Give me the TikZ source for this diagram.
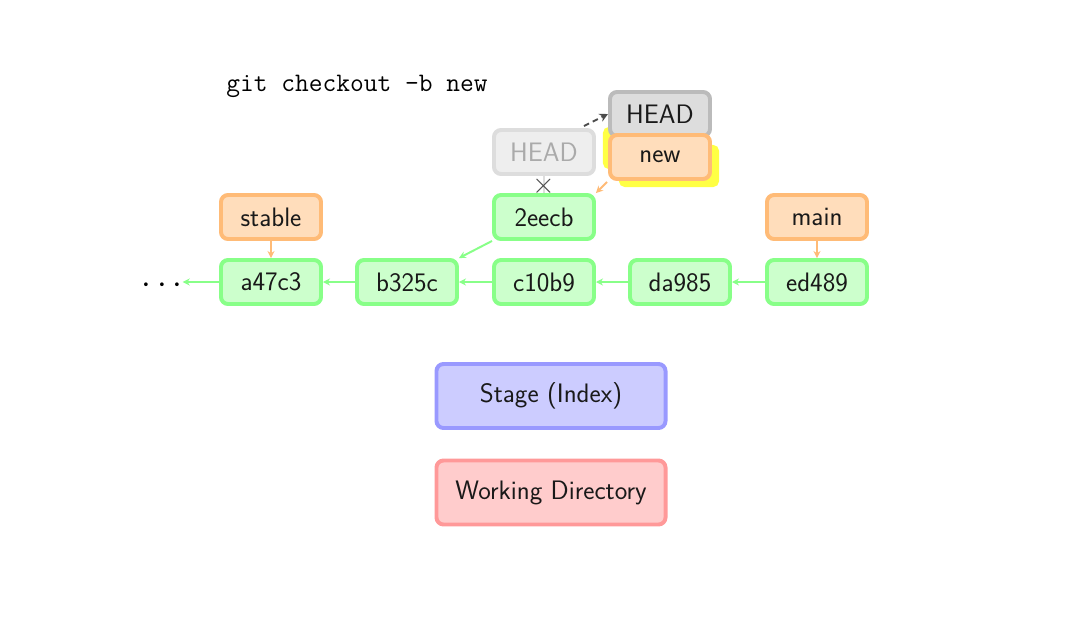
\documentclass[tikz,border=0pt]{standalone}
\usetikzlibrary{arrows.meta}
\definecolor{gfill}{HTML}{CCFFCC}
\definecolor{gdraw}{HTML}{88FF88}
\definecolor{ofill}{HTML}{FFDDBB}
\definecolor{odraw}{HTML}{FFBB77}
\definecolor{bfill}{HTML}{CCCCFF}
\definecolor{bdraw}{HTML}{9999FF}
\definecolor{rfill}{HTML}{FFCCCC}
\definecolor{rdraw}{HTML}{FF9999}
\definecolor{hfill}{HTML}{DDDDDD}
\definecolor{hdraw}{HTML}{BBBBBB}
\definecolor{ffill}{HTML}{EEEEEE}
\definecolor{fdraw}{HTML}{DDDDDD}
\definecolor{ftext}{HTML}{AAAAAA}
\definecolor{yel}{HTML}{FFFF44}
\begin{document}
\begin{tikzpicture}[x=0.025cm,y=-0.025cm,
  base/.style={rectangle,rounded corners=5pt,line width=2.8pt,minimum width=2.5cm,minimum height=1.1cm,inner sep=0pt,font=\sffamily\fontsize{19}{23}\selectfont,text=black!90},
  commit/.style={base,draw=gdraw,fill=gfill},
  branch/.style={base,draw=odraw,fill=ofill},
  headbox/.style={base,draw=hdraw,fill=hfill},
  fadedbox/.style={base,draw=fdraw,fill=ffill,text=ftext},
  area/.style={base,minimum width=5.725cm,minimum height=1.6cm},
  garrow/.style={draw=gdraw,line width=1.4pt,-{Stealth[length=5pt,width=5pt]}},
  oarrow/.style={draw=odraw,line width=1.4pt,-{Stealth[length=5pt,width=5pt]}},
  yelbox/.style={rectangle,rounded corners=4pt,fill=yel,minimum width=2.5cm,minimum height=1.05cm,inner sep=0pt}
]
\useasboundingbox (0,0) rectangle (1092,626);

\node[font=\ttfamily\fontsize{19}{23}\selectfont,anchor=west,inner sep=0pt] (cmd) at (226,86) {git checkout -b new};

% yellow highlight
\node[yelbox] (y1) at (653,148) {};
\node[yelbox] (y2) at (669,166) {};

\node[commit] (a47c3) at (271,282) {a47c3};
\node[commit] (b325c) at (407,282) {b325c};
\node[commit] (c10b9) at (544,282) {c10b9};
\node[commit] (da985) at (680,282) {da985};
\node[commit] (ed489) at (817,282) {ed489};
\node[commit] (2eecb) at (544,217) {2eecb};
\node[branch] (stable) at (271,217) {stable};
\node[branch] (main) at (817,217) {main};
\node[fadedbox] (oldhead) at (544,152) {HEAD};
\node[headbox] (head) at (660,114) {HEAD};
\node[branch] (new) at (660,157) {new};

\node[font=\fontsize{24}{24}\selectfont,inner sep=0pt] (dots) at (162,286) {$\cdots$};

\draw[garrow] (a47c3.west) -- (a47c3.west -| dots.east) coordinate (dotsend);
\draw[garrow] (b325c.west) -- (a47c3.east);
\draw[garrow] (c10b9.west) -- (b325c.east);
\draw[garrow] (da985.west) -- (c10b9.east);
\draw[garrow] (ed489.west) -- (da985.east);
\draw[garrow] (2eecb.south west) -- (b325c.north east);
\draw[oarrow] (stable.south) -- (a47c3.north);
\draw[oarrow] (main.south) -- (ed489.north);
\draw[oarrow,shorten <=1pt] (new.south west) -- (2eecb.north east);

\draw[draw=fdraw,line width=1.4pt] (oldhead.south) -- (2eecb.north);
\node[text=black!70,font=\fontsize{22}{22}\selectfont,inner sep=0pt] (cross) at (544,186) {$\times$};

\draw[draw=black!70,line width=1.4pt,dash pattern=on 4pt off 3pt,-{Stealth[length=6pt,width=6pt]}] (oldhead.north east) ++(-12,-2) coordinate (ds) -- (head.west);

\node[area,draw=bdraw,fill=bfill] (stage) at (551,396) {Stage (Index)};
\node[area,draw=rdraw,fill=rfill] (wd) at (551,492.5) {Working Directory};
\end{tikzpicture}
\end{document}
